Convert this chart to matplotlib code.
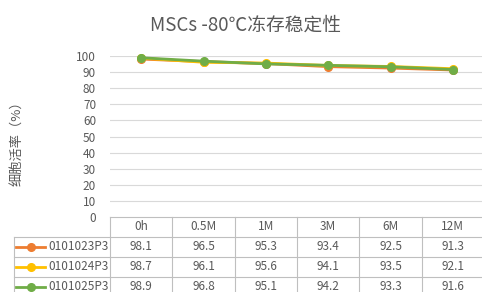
import matplotlib
matplotlib.use("Agg")
import matplotlib.pyplot as plt
from matplotlib.lines import Line2D

plt.rcParams['font.family'] = ['Noto Sans CJK SC', 'DejaVu Sans']

title = "MSCs -80℃冻存稳定性"
ylabel = "细胞活率（%）"
categories = ["0h", "0.5M", "1M", "3M", "6M", "12M"]
series_names = ["0101023P3", "0101024P3", "0101025P3"]
s1 = [98.1, 96.5, 95.3, 93.4, 92.5, 91.3]
s2 = [98.7, 96.1, 95.6, 94.1, 93.5, 92.1]
s3 = [98.9, 96.8, 95.1, 94.2, 93.3, 91.6]
series = [s1, s2, s3]
colors = ["#ED7D31", "#FFC000", "#70AD47"]
yticks = [0, 10, 20, 30, 40, 50, 60, 70, 80, 90, 100]

W, H = 482, 292
fig = plt.figure(figsize=(W / 100, H / 100), dpi=100)
left_px, right_px, top_px, bot_px = 110, 484, 56, 217
ax = fig.add_axes([left_px / W, 1 - bot_px / H, (right_px - left_px) / W, (bot_px - top_px) / H])

text_color = "#595959"
grid_color = "#D9D9D9"
border_color = "#BFBFBF"
fs = 8.5

x = list(range(len(categories)))
for vals, c in zip(series, colors):
    ax.plot(x, vals, color=c, lw=2.0, marker='o', ms=5.5, mec=c, mfc=c, zorder=3, clip_on=False)

ax.set_xlim(-0.5, len(categories) - 0.5)
ax.set_ylim(0, 100)
ax.set_yticks(yticks)
ax.set_yticklabels([str(v) for v in yticks], fontsize=fs, color=text_color)
ax.tick_params(axis='y', length=0, pad=10)
ax.set_xticks([])
for v in yticks[1:]:
    ax.axhline(v, color=grid_color, lw=0.8, zorder=1)
for sp in ax.spines.values():
    sp.set_visible(False)

fig.text(18 / W, 1 - 140 / H, ylabel, rotation=90, ha='center', va='center',
         fontsize=9.5, color=text_color)
fig.text(245 / W, 1 - 25 / H, title, ha='center', va='center', fontsize=13.5, color=text_color)

# data table below the plot
tr = ax.get_xaxis_transform()
row_h = 20 / (bot_px - top_px)
col_w_px = (right_px - left_px) / len(categories)
leg_left = -0.5 - (left_px - 14) / col_w_px
nrows = len(series)
xr = len(categories) - 0.5

ax.plot([-0.5, xr], [0, 0], transform=tr, color=border_color, lw=0.8, clip_on=False)
for i in range(1, nrows + 2):
    y = -i * row_h
    ax.plot([leg_left, xr], [y, y], transform=tr, color=border_color, lw=0.8, clip_on=False)
for j in range(len(categories) + 1):
    xv = j - 0.5
    ax.plot([xv, xv], [0, -(nrows + 1.5) * row_h], transform=tr, color=border_color, lw=0.8, clip_on=False)
ax.plot([leg_left, leg_left], [-row_h, -(nrows + 1.5) * row_h], transform=tr,
        color=border_color, lw=0.8, clip_on=False)

for j, cat in enumerate(categories):
    ax.text(j, -0.5 * row_h, cat, transform=tr, ha='center', va='center', fontsize=fs, color=text_color)
for i, (name, vals, c) in enumerate(zip(series_names, series, colors)):
    yc = -(i + 1.5) * row_h
    for j, v in enumerate(vals):
        ax.text(j, yc, f"{v:.1f}", transform=tr, ha='center', va='center', fontsize=fs, color=text_color)
    xs0 = leg_left + 2 / col_w_px
    xs1 = leg_left + 31 / col_w_px
    ax.add_line(Line2D([xs0, xs1], [yc, yc], transform=tr, color=c, lw=2.0, clip_on=False))
    ax.add_line(Line2D([(xs0 + xs1) / 2], [yc], transform=tr, color=c, marker='o', ms=5.5,
                       mec=c, mfc=c, clip_on=False))
    ax.text(leg_left + 34 / col_w_px, yc, name, transform=tr, ha='left', va='center',
            fontsize=fs, color=text_color)

fig.savefig("out.png", dpi=100)
